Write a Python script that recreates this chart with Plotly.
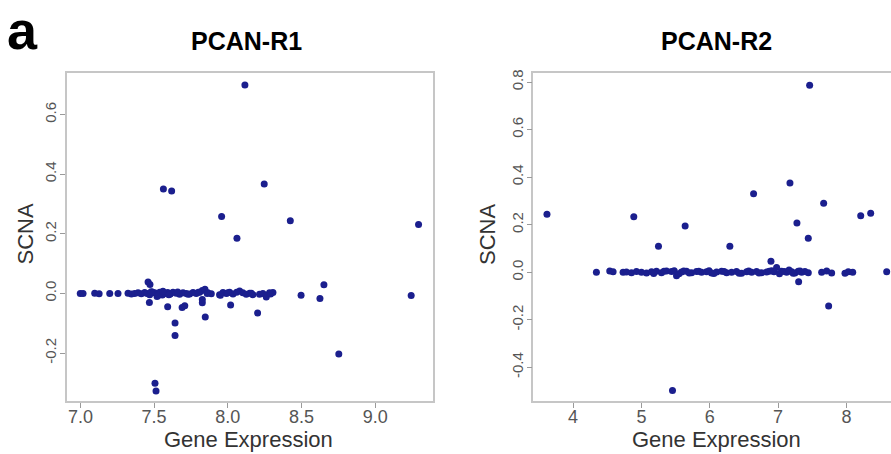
import plotly.graph_objects as go

# ---------------- Data ----------------
# PCAN-R1
r1_gene_expr = [8.116, 7.563, 7.619, 8.247, 7.958, 8.062, 8.424, 9.294, 9.244, 8.753,
                8.652, 8.625, 8.497, 7.506, 7.513, 7.642, 7.642, 7.468, 7.459, 7.472,
                7.592, 7.690, 7.708, 7.827, 7.827, 7.847, 8.019, 8.202, 8.261, 7.520,
                6.999, 7.018, 7.097, 7.127, 7.199, 7.255, 7.323, 7.346, 7.368, 7.391,
                7.413, 7.436, 7.452, 7.470, 7.488, 7.504, 7.520, 7.538, 7.556, 7.574,
                7.592, 7.610, 7.628, 7.650, 7.673, 7.696, 7.718, 7.741, 7.764, 7.786,
                7.809, 7.827, 7.845, 7.865, 7.888, 7.944, 7.967, 7.990, 8.012, 8.035,
                8.080, 8.102, 8.125, 8.148, 8.170, 8.215, 8.238, 8.261, 8.283, 8.306,
                7.480, 7.530, 7.560, 7.600, 7.660, 7.730, 7.800, 7.860, 7.950, 8.000,
                8.060, 8.160, 8.290]
r1_scna = [0.699, 0.350, 0.344, 0.367, 0.258, 0.185, 0.244, 0.231, -0.007, -0.203,
           0.029, -0.017, -0.006, -0.301, -0.327, -0.099, -0.141, -0.030, 0.038, 0.030,
           -0.045, -0.047, -0.041, -0.020, -0.031, -0.079, -0.039, -0.066, -0.012, -0.010,
           0.000, 0.000, 0.001, -0.001, 0.000, 0.000, 0.001, -0.002, 0.000, 0.002,
           -0.001, 0.003, 0.000, -0.004, 0.005, 0.002, -0.003, 0.004, -0.005, 0.000,
           0.003, -0.002, 0.004, 0.001, -0.003, 0.002, 0.000, -0.002, 0.003, 0.000,
           0.004, 0.010, 0.014, 0.002, -0.001, -0.004, 0.003, 0.000, 0.004, -0.002,
           0.008, 0.002, -0.003, 0.001, -0.004, -0.003, 0.000, -0.006, 0.002, 0.003,
           0.006, -0.006, 0.007, -0.004, 0.005, -0.003, 0.004, 0.000, -0.006, 0.002,
           0.004, 0.001, -0.002]

# PCAN-R2
r2_gene_expr = [3.619, 4.889, 5.250, 5.640, 5.455, 6.294, 6.641, 6.895, 7.173, 7.275,
                7.461, 7.441, 7.300, 7.666, 7.739, 8.208, 8.354, 8.588,
                4.342, 4.537, 4.586, 4.732, 4.781, 4.855, 4.928, 5.001, 5.075, 5.148,
                5.221, 5.294, 5.367, 5.441, 5.514, 5.587, 5.660, 5.734, 5.807, 5.880,
                5.953, 6.026, 6.100, 6.173, 6.246, 6.319, 6.392, 6.466, 6.539, 6.612,
                6.685, 6.758, 6.832, 6.905, 6.978, 7.051, 7.124, 7.198, 7.246, 7.294,
                7.344, 7.392, 7.441, 7.637, 7.710, 7.783, 7.978, 8.026, 8.091,
                5.180, 5.330, 5.480, 5.550, 5.620, 5.700, 5.840, 5.990, 6.060, 6.210,
                6.430, 6.570, 6.720, 6.870, 6.940, 7.020, 7.090, 7.160, 7.220, 7.320]
r2_scna = [0.244, 0.233, 0.109, 0.195, -0.497, 0.109, 0.330, 0.046, 0.375, 0.207,
           0.787, 0.143, -0.040, 0.290, -0.142, 0.238, 0.248, 0.002,
           0.000, 0.005, 0.002, 0.000, 0.001, -0.002, 0.003, 0.000, -0.003, 0.002,
           0.004, -0.002, 0.005, 0.003, -0.015, 0.001, 0.004, -0.002, 0.003, 0.000,
           0.002, -0.003, 0.001, 0.004, -0.002, 0.000, 0.003, -0.004, 0.002, 0.000,
           0.003, -0.002, 0.001, 0.006, 0.020, 0.004, 0.000, 0.002, -0.003, 0.004,
           0.000, 0.003, -0.002, 0.000, 0.005, -0.003, -0.004, 0.002, 0.000,
           -0.005, 0.004, 0.006, -0.006, 0.005, -0.003, 0.004, 0.006, -0.005, 0.003,
           -0.004, 0.005, -0.003, 0.004, 0.002, -0.006, 0.003, 0.010, -0.004, 0.005]

r1_xticks = [7.0, 7.5, 8.0, 8.5, 9.0]
r1_xtick_text = ["7.0", "7.5", "8.0", "8.5", "9.0"]
r1_yticks = [-0.2, 0.0, 0.2, 0.4, 0.6]
r1_ytick_text = ["-0.2", "0.0", "0.2", "0.4", "0.6"]
r2_xticks = [4, 5, 6, 7, 8]
r2_xtick_text = ["4", "5", "6", "7", "8"]
r2_yticks = [-0.4, -0.2, 0.0, 0.2, 0.4, 0.6, 0.8]
r2_ytick_text = ["-0.4", "-0.2", "0.0", "0.2", "0.4", "0.6", "0.8"]

panel_titles = ["PCAN-R1", "PCAN-R2"]
x_title = "Gene Expression"
y_title = "SCNA"
panel_letter = "a"

# ---------------- Figure ----------------
W, H = 891, 454
FONT = "Liberation Sans, Arial, Helvetica, sans-serif"
DOT = "#1b1f8e"
BOX = "#c6c6c6"

fig = go.Figure()
fig.add_trace(go.Scatter(x=r1_gene_expr, y=r1_scna, mode="markers",
                         marker=dict(color=DOT, size=7, line=dict(width=0)),
                         xaxis="x", yaxis="y", showlegend=False))
fig.add_trace(go.Scatter(x=r2_gene_expr, y=r2_scna, mode="markers",
                         marker=dict(color=DOT, size=7, line=dict(width=0)),
                         xaxis="x2", yaxis="y2", showlegend=False))

ydom = [1 - 401 / H, 1 - 70 / H]
common = dict(showgrid=False, zeroline=False, showline=True, linecolor=BOX,
              linewidth=1.5, ticks="outside", ticklen=5, tickcolor="#9a9a9a",
              tickwidth=1)
xtickfont = dict(family=FONT, size=18, color="#555555")
ytickfont = dict(family=FONT, size=15, color="#555555")

fig.update_layout(
    width=W, height=H,
    margin=dict(l=0, r=0, t=0, b=0),
    paper_bgcolor="white", plot_bgcolor="white",
    xaxis=dict(domain=[66.7 / W, 432.7 / W], range=[6.907, 9.39], mirror=True,
               tickvals=r1_xticks, ticktext=r1_xtick_text, tickfont=xtickfont,
               ticklabelstandoff=-7, anchor="y", **common),
    yaxis=dict(domain=ydom, range=[-0.362, 0.741], mirror=True,
               tickvals=r1_yticks, ticktext=r1_ytick_text, tickfont=ytickfont,
               ticklabelstandoff=-2, tickangle=-90, anchor="x", **common),
    xaxis2=dict(domain=[533.3 / W, 1.0], range=[3.419, 8.651], mirror=True,
                tickvals=r2_xticks, ticktext=r2_xtick_text, tickfont=xtickfont,
                ticklabelstandoff=-7, anchor="y2", **common),
    yaxis2=dict(domain=ydom, range=[-0.543, 0.840], mirror=False,
                tickvals=r2_yticks, ticktext=r2_ytick_text, tickfont=ytickfont,
                ticklabelstandoff=-2, tickangle=-90, anchor="x2", **common),
)

ann = []
ann.append(dict(text="<b>" + panel_letter + "</b>", x=22 / W, y=1 - 27 / H,
                xref="paper", yref="paper", showarrow=False,
                xanchor="center", yanchor="middle",
                font=dict(family=FONT, size=54, color="black")))
for cx, t in zip([246.5, 716.5], panel_titles):
    ann.append(dict(text="<b>" + t + "</b>", x=cx / W, y=1 - 38 / H,
                    xref="paper", yref="paper", showarrow=False,
                    xanchor="center", yanchor="middle",
                    font=dict(family=FONT, size=25, color="black")))
for cx in [248.8, 716.7]:
    ann.append(dict(text=x_title, x=cx / W, y=1 - 439 / H,
                    xref="paper", yref="paper", showarrow=False,
                    xanchor="center", yanchor="middle",
                    font=dict(family=FONT, size=22, color="#333333")))
for cx in [25, 487.5]:
    ann.append(dict(text=y_title, x=cx / W, y=1 - 233 / H, textangle=-90,
                    xref="paper", yref="paper", showarrow=False,
                    xanchor="center", yanchor="middle",
                    font=dict(family=FONT, size=22, color="#333333")))
fig.update_layout(annotations=ann)

fig.write_html("out.html", config={"displayModeBar": False},
               post_script="document.body.style.margin='0px';document.body.style.overflow='hidden';")
